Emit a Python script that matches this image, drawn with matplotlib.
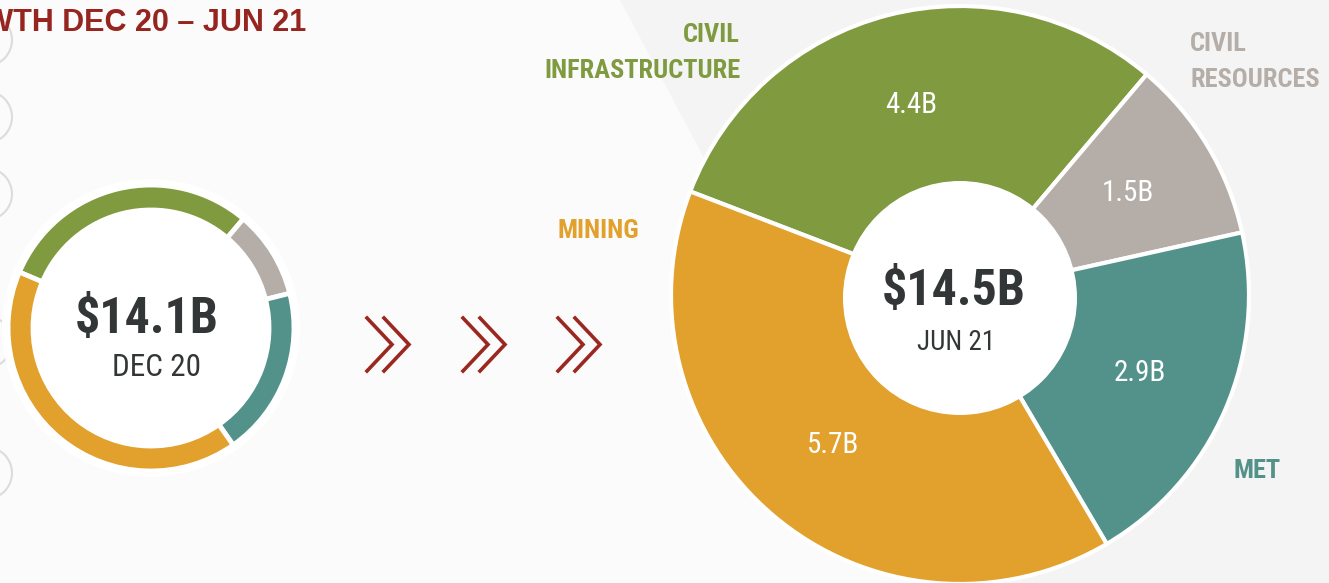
import matplotlib
matplotlib.use("Agg")
import matplotlib.pyplot as plt
from matplotlib import font_manager
from matplotlib.patches import Circle, Polygon

# data
#
segments = ['CIVIL\nINFRASTRUCTURE', 'CIVIL\nRESOURCES', 'MET', 'MINING']
dec20 = [4.2, 1.4, 2.7, 5.8]
jun21 = [4.4, 1.5, 2.9, 5.7]
colors = ['#7F9A3F', '#B5AEA8', '#52928A', '#E2A02D']
periods = ['DEC 20', 'JUN 21']
totals = ['$14.1B', '$14.5B']

# pick a narrow font (arial narrow look-alike) with a real bold
avail = set((f.name, f.weight) for f in font_manager.fontManager.ttflist)
NARROW = 'Liberation Sans'
for fam in ['Liberation Sans Narrow', 'Arial Narrow', 'Roboto Condensed', 'PT Sans Narrow',
            'Barlow Semi Condensed']:
    if (fam, 400) in avail and (fam, 700) in avail:
        NARROW = fam
        break

DARK = '#333637'
RED = '#962520'

W, H = 1329, 583
fig = plt.figure(figsize=(W / 100, H / 100), dpi=100, facecolor='#F4F4F4')
ax = fig.add_axes([0, 0, 1, 1])

# background band
ax.add_patch(Polygon([(0, 0), (0, H), (620, H), (930, 0)], closed=True,
                     facecolor='#FBFBFB', edgecolor='none', zorder=0))

# left edge decoration
for yy in [543, 466, 389, 241, 110]:
    ax.add_patch(Circle((-14, yy), 26, facecolor='none', edgecolor='#DCDCDC', lw=1.5, zorder=1))

# small donut (dec 20)
cx1, cy1, R1 = 151, H - 328, 143
ax.add_patch(Circle((cx1, cy1), R1 + 6, facecolor='white', edgecolor='none', zorder=1))
ax.pie(dec20, colors=colors, startangle=157, counterclock=False, radius=R1,
       center=(cx1, cy1), frame=True,
       wedgeprops=dict(width=25, edgecolor='white', linewidth=3.5))
ax.text(cx1 - 4, cy1 + 9, totals[0], ha='center', va='center', fontsize=36,
        weight='bold', color=DARK, family=NARROW)
ax.text(cx1 + 6, cy1 - 39, periods[0], ha='center', va='center', fontsize=22.5,
        color=DARK, family=NARROW)

# chevrons
for x0 in [367, 463, 558]:
    for dx in [0, 17]:
        ax.plot([x0 + dx, x0 + dx + 25, x0 + dx], [H - 318, H - 344.5, H - 371],
                color='#9A2820', lw=2.6, solid_joinstyle='miter', zorder=3)

# big donut (jun 21)
cx2, cy2, R2 = 960, H - 295, 289
total2 = sum(jun21)
wedges, _, autotexts = ax.pie(
    jun21, colors=colors, startangle=159, counterclock=False, radius=R2,
    center=(cx2, cy2), frame=True, autopct=lambda p: '%.1fB' % (p * total2 / 100),
    pctdistance=0.68, textprops=dict(color='white', fontsize=21, family=NARROW),
    wedgeprops=dict(edgecolor='white', linewidth=3))
ax.add_patch(Circle((cx2, cy2 - 3), 117, facecolor='white', edgecolor='none', zorder=2))
ax.text(cx2 - 6, cy2 + 3, totals[1], ha='center', va='center', fontsize=36,
        weight='bold', color=DARK, family=NARROW, zorder=3)
ax.text(cx2 - 4, cy2 - 47, periods[1], ha='center', va='center', fontsize=19.5,
        color=DARK, family=NARROW, zorder=3)

# segment labels
label_pos = [(740, H - 53, 'right'), (1190, H - 62, 'left'), (1257, H - 471, 'center'),
             (598, H - 231, 'center')]
for name, c, (lx, ly, ha) in zip(segments, colors, label_pos):
    ax.text(lx, ly, name, ha=ha, va='center', multialignment=ha, fontsize=19,
            weight='bold', color=c, family=NARROW, linespacing=1.6)

# title (cut by the crop)
ax.text(306, H - 23, 'GROWTH DEC 20 \u2013 JUN 21', ha='right', va='center',
        fontsize=22, weight='bold', color=RED, family='Liberation Sans')

ax.set_xlim(0, W)
ax.set_ylim(0, H)
ax.set_aspect('equal')
ax.axis('off')

fig.savefig('out.png', dpi=100, facecolor=fig.get_facecolor())
